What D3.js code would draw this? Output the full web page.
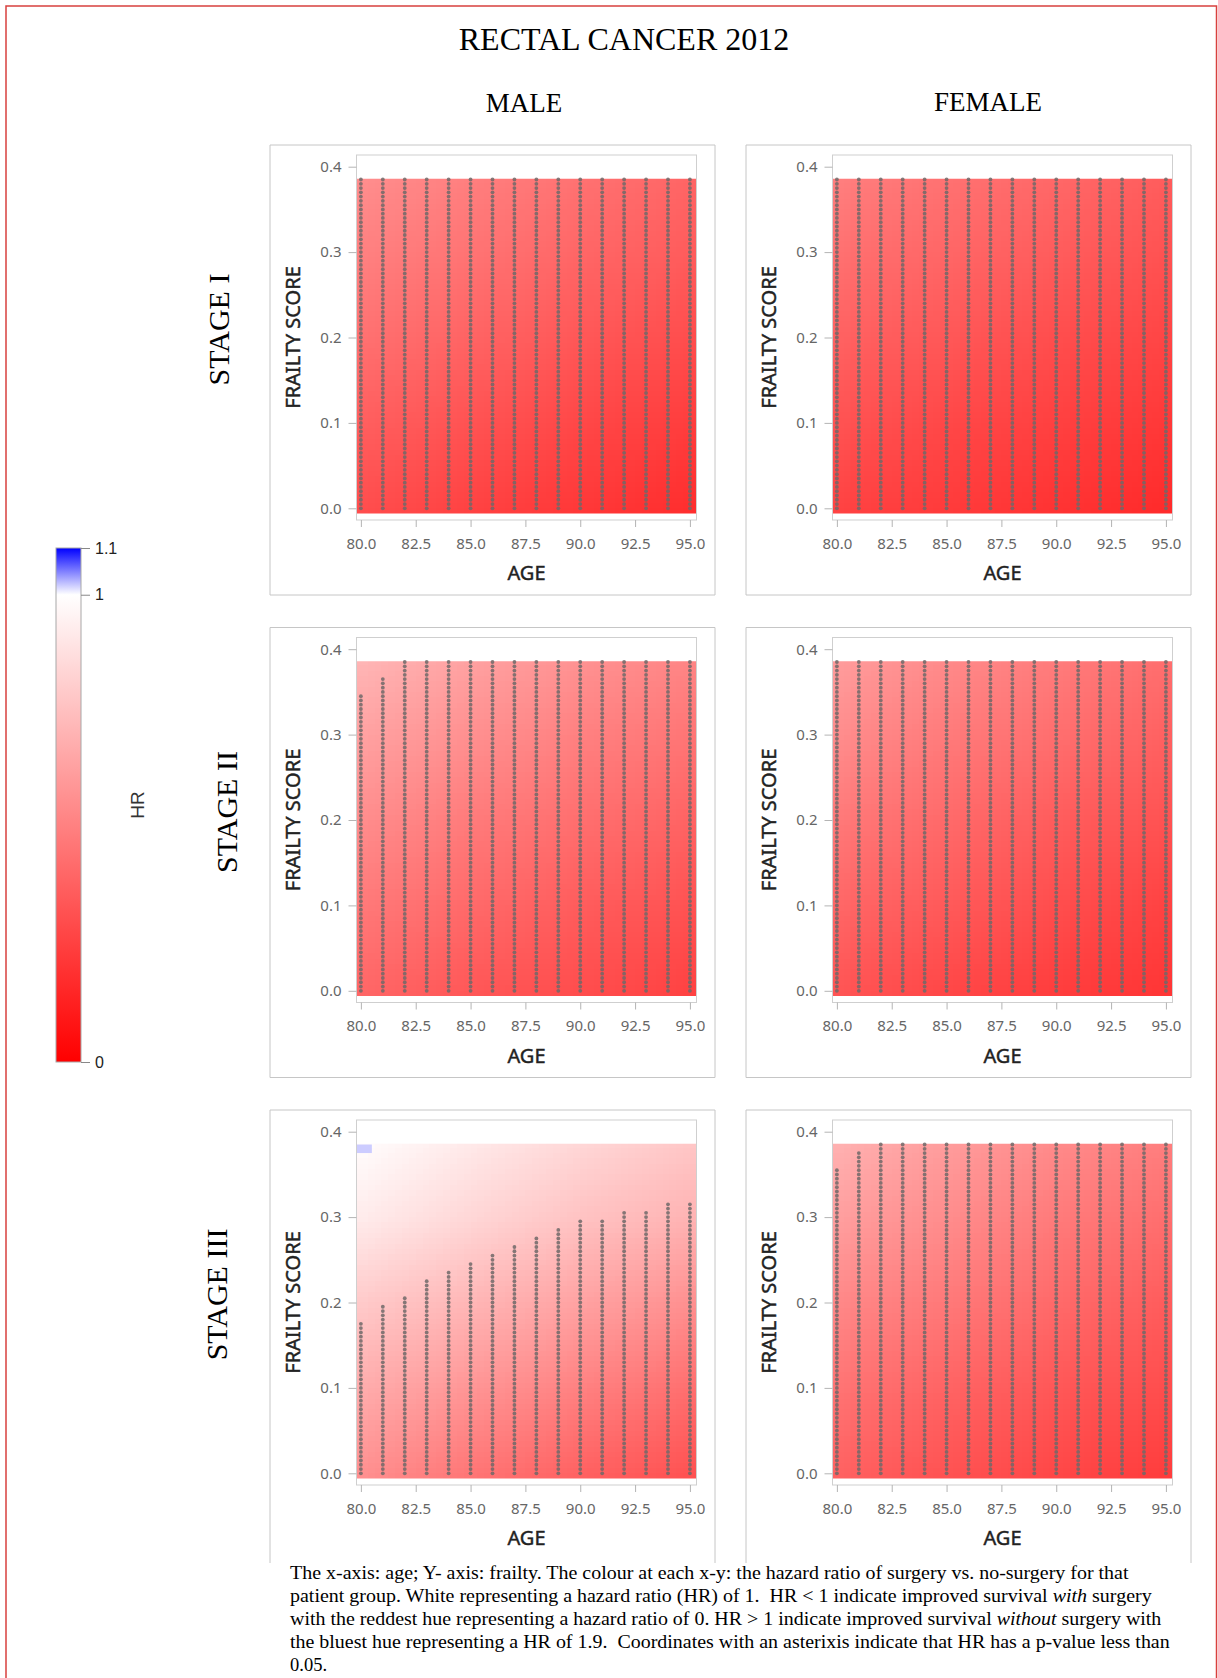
<!DOCTYPE html>
<html>
<head>
<meta charset="utf-8">
<script src="https://cdn.jsdelivr.net/npm/d3@7"></script>
<style>
  body { margin: 0; background: #fff; }
  svg { display: block; }
</style>
</head>
<body>
<div id="chart"></div>
<script>
const ages = [80, 81, 82, 83, 84, 85, 86, 87, 88, 89, 90, 91, 92, 93, 94, 95];
const ageTicks = [80, 82.5, 85, 87.5, 90, 92.5, 95];
const frailtyTicks = [0, 0.1, 0.2, 0.3, 0.4];
const legendTicks = [0, 1, 1.1];
const sexes = ['MALE', 'FEMALE'];
const stages = ['STAGE I', 'STAGE II', 'STAGE III'];

// HR at these ages (columns) and frailty scores (rows)
const hrAges = [80, 85, 90, 95];
const hrFrailty = [0, 0.1, 0.2, 0.3, 0.4];

const hrStage1Male = [
  [0.30, 0.26, 0.22, 0.18],
  [0.37, 0.32, 0.28, 0.24],
  [0.44, 0.39, 0.34, 0.30],
  [0.50, 0.45, 0.40, 0.36],
  [0.56, 0.50, 0.45, 0.40]
];
const hrStage1Female = [
  [0.26, 0.23, 0.20, 0.17],
  [0.32, 0.28, 0.25, 0.22],
  [0.38, 0.34, 0.30, 0.27],
  [0.44, 0.40, 0.36, 0.32],
  [0.50, 0.45, 0.41, 0.37]
];
const hrStage2Male = [
  [0.40, 0.34, 0.30, 0.26],
  [0.47, 0.41, 0.36, 0.32],
  [0.55, 0.48, 0.43, 0.39],
  [0.63, 0.56, 0.50, 0.46],
  [0.72, 0.64, 0.58, 0.53]
];
const hrStage2Female = [
  [0.33, 0.28, 0.24, 0.21],
  [0.40, 0.35, 0.30, 0.26],
  [0.47, 0.41, 0.36, 0.32],
  [0.55, 0.48, 0.43, 0.38],
  [0.62, 0.55, 0.49, 0.44]
];
const hrStage3Male = [
  [0.56, 0.46, 0.38, 0.32],
  [0.67, 0.58, 0.50, 0.43],
  [0.79, 0.71, 0.63, 0.56],
  [0.92, 0.84, 0.76, 0.70],
  [1.00, 0.92, 0.85, 0.79]
];
const hrStage3Female = [
  [0.38, 0.32, 0.28, 0.24],
  [0.45, 0.39, 0.34, 0.30],
  [0.53, 0.47, 0.41, 0.36],
  [0.62, 0.55, 0.48, 0.43],
  [0.70, 0.62, 0.55, 0.50]
];
// single cells drawn on top: [age, frailty, HR]
const hrCellsStage3Male = [[80, 0.38, 1.02]];

// highest frailty score with p < 0.05 at each age (asterisks run from 0 up to it)
const sigStage1Male = [0.385, 0.385, 0.385, 0.385, 0.385, 0.385, 0.385, 0.385, 0.385, 0.385, 0.385, 0.385, 0.385, 0.385, 0.385, 0.385];
const sigStage1Female = [0.385, 0.385, 0.385, 0.385, 0.385, 0.385, 0.385, 0.385, 0.385, 0.385, 0.385, 0.385, 0.385, 0.385, 0.385, 0.385];
const sigStage2Male = [0.345, 0.365, 0.385, 0.385, 0.385, 0.385, 0.385, 0.385, 0.385, 0.385, 0.385, 0.385, 0.385, 0.385, 0.385, 0.385];
const sigStage2Female = [0.385, 0.385, 0.385, 0.385, 0.385, 0.385, 0.385, 0.385, 0.385, 0.385, 0.385, 0.385, 0.385, 0.385, 0.385, 0.385];
const sigStage3Male = [0.175, 0.195, 0.205, 0.225, 0.235, 0.245, 0.255, 0.265, 0.275, 0.285, 0.295, 0.295, 0.305, 0.305, 0.315, 0.315];
const sigStage3Female = [0.355, 0.375, 0.385, 0.385, 0.385, 0.385, 0.385, 0.385, 0.385, 0.385, 0.385, 0.385, 0.385, 0.385, 0.385, 0.385];
const frailtyStep = 0.005;
const heatExtent = [-0.006, 0.386];

const captionLines = [
  [['The x-axis: age; Y- axis: frailty. The colour at each x-y: the hazard ratio of surgery vs. no-surgery for that']],
  [['patient group. White representing a hazard ratio (HR) of 1.  HR < 1 indicate improved survival '], ['with', true], [' surgery']],
  [['with the reddest hue representing a hazard ratio of 0. HR > 1 indicate improved survival '], ['without', true], [' surgery with']],
  [['the bluest hue representing a HR of 1.9.  Coordinates with an asterixis indicate that HR has a p-value less than']],
  [['0.05.']]
];

const panels = [
  { stage: 0, sex: 0, hr: hrStage1Male, sig: sigStage1Male, cells: [] },
  { stage: 0, sex: 1, hr: hrStage1Female, sig: sigStage1Female, cells: [] },
  { stage: 1, sex: 0, hr: hrStage2Male, sig: sigStage2Male, cells: [] },
  { stage: 1, sex: 1, hr: hrStage2Female, sig: sigStage2Female, cells: [] },
  { stage: 2, sex: 0, hr: hrStage3Male, sig: sigStage3Male, cells: hrCellsStage3Male },
  { stage: 2, sex: 1, hr: hrStage3Female, sig: sigStage3Female, cells: [] }
];

// layout
const W = 1218, H = 1678;
const colX = [270, 746];
const rowY = [145, 627.5, 1110];
const boxW = 445, boxH = 450;
const plot = { left: 86.5, top: 10, width: 340, height: 365 };
const headerX = [524, 988], headerY = [112, 111];
const stageX = [229, 237, 227];
const captionWidths = [839, 862, 872, 880, 0];
const serif = '"Liberation Serif", "Times New Roman", serif';
const sans = '"Noto Sans", "Open Sans", sans-serif';

const color = d3.scaleLinear()
  .domain([0, 1, 1.1])
  .range(['#ff0000', '#ffffff', '#0000ff'])
  .clamp(true);

const svg = d3.select('#chart').append('svg')
  .attr('width', W)
  .attr('height', H);

const defs = svg.append('defs');

//red frame round the figure
svg.append('rect')
  .attr('x', 6).attr('y', 6)
  .attr('width', 1210.5).attr('height', 1720)
  .attr('fill', 'none')
  .attr('stroke', '#d8403e')
  .attr('stroke-width', 1.5);

svg.append('text')
  .attr('x', 624).attr('y', 50)
  .attr('text-anchor', 'middle')
  .style('font-family', serif)
  .style('font-size', '32px')
  .text('RECTAL CANCER 2012');

svg.selectAll('.sex')
  .data(sexes)
  .enter()
  .append('text')
  .attr('class', 'sex')
  .attr('x', (d, i) => headerX[i])
  .attr('y', (d, i) => headerY[i])
  .attr('text-anchor', 'middle')
  .style('font-family', serif)
  .style('font-size', '27px')
  .text(d => d);

svg.selectAll('.stage')
  .data(stages)
  .enter()
  .append('text')
  .attr('class', 'stage')
  .attr('transform', (d, i) => `translate(${stageX[i]},${rowY[i] + plot.top + plot.height / 2 - 8}) rotate(-90)`)
  .attr('text-anchor', 'middle')
  .style('font-family', serif)
  .style('font-size', '30px')
  .text(d => d);

function heatImage(grid) {
  const canvas = document.createElement('canvas');
  canvas.width = hrAges.length;
  canvas.height = hrFrailty.length;
  const ctx = canvas.getContext('2d');
  grid.forEach((row, i) => {
    row.forEach((hr, j) => {
      ctx.fillStyle = color(hr);
      ctx.fillRect(j, hrFrailty.length - 1 - i, 1, 1);
    });
  });
  return canvas.toDataURL();
}

function drawPanel(p, n) {
  const ox = colX[p.sex], oy = rowY[p.stage];
  const last = p.stage === stages.length - 1;

  const x = d3.scaleLinear().domain([79.8, 95.3]).range([0, plot.width]);
  const y = d3.scaleLinear().domain([-0.0137, 0.4137]).range([plot.height, 0]);

  const box = svg.append('g').attr('transform', `translate(${ox},${oy})`);

  //outer box, the bottom row is cut by the caption
  box.append('path')
    .attr('d', last ? `M0,${boxH + 3}V0H${boxW}V${boxH + 3}` : `M0,0H${boxW}V${boxH}H0Z`)
    .attr('fill', 'none')
    .attr('stroke', '#c6c6c6');

  const g = box.append('g').attr('transform', `translate(${plot.left},${plot.top})`);

  g.append('rect')
    .attr('width', plot.width)
    .attr('height', plot.height)
    .attr('fill', '#fff');

  const clipId = 'heat-clip-' + n;
  defs.append('clipPath').attr('id', clipId)
    .append('rect')
    .attr('x', 0)
    .attr('y', y(heatExtent[1]))
    .attr('width', plot.width)
    .attr('height', y(heatExtent[0]) - y(heatExtent[1]));

  const halfAge = (hrAges[1] - hrAges[0]) / 2;
  const halfFrailty = (hrFrailty[1] - hrFrailty[0]) / 2;
  const heat = g.append('g').attr('clip-path', `url(#${clipId})`);

  heat.append('image')
    .attr('href', heatImage(p.hr))
    .attr('x', x(hrAges[0] - halfAge))
    .attr('y', y(hrFrailty[hrFrailty.length - 1] + halfFrailty))
    .attr('width', x(hrAges[hrAges.length - 1] + halfAge) - x(hrAges[0] - halfAge))
    .attr('height', y(hrFrailty[0] - halfFrailty) - y(hrFrailty[hrFrailty.length - 1] + halfFrailty))
    .attr('preserveAspectRatio', 'none');

  heat.selectAll('.cell')
    .data(p.cells)
    .enter()
    .append('rect')
    .attr('class', 'cell')
    .attr('x', d => x(d[0] - 0.5))
    .attr('y', d => y(d[1] + 0.005))
    .attr('width', d => x(d[0] + 0.5) - x(d[0] - 0.5))
    .attr('height', d => y(d[1] - 0.005) - y(d[1] + 0.005))
    .attr('fill', d => color(d[2]));

  //asterisks where p < 0.05
  const points = [];
  ages.forEach((age, i) => {
    const count = Math.round(p.sig[i] / frailtyStep);
    for (let k = 0; k <= count; k++) points.push([age, k * frailtyStep]);
  });

  g.selectAll('.star')
    .data(points)
    .enter()
    .append('circle')
    .attr('class', 'star')
    .attr('cx', d => x(d[0]))
    .attr('cy', d => y(d[1]))
    .attr('r', 1.9)
    .attr('fill', '#706868')
    .attr('fill-opacity', 0.85);

  g.append('rect')
    .attr('width', plot.width)
    .attr('height', plot.height)
    .attr('fill', 'none')
    .attr('stroke', '#cfcfcf');

  const styleAxis = a => {
    a.select('.domain').remove();
    a.selectAll('line').attr('stroke', '#b4b4b4');
    a.attr('font-family', sans).attr('font-size', 15);
    a.selectAll('text').attr('fill', '#666');
  };

  g.append('g')
    .attr('transform', `translate(0,${plot.height})`)
    .call(d3.axisBottom(x).tickValues(ageTicks).tickFormat(d3.format('.1f')).tickSize(7).tickPadding(11))
    .call(styleAxis);

  g.append('g')
    .call(d3.axisLeft(y).tickValues(frailtyTicks).tickFormat(d3.format('.1f')).tickSize(8).tickPadding(7))
    .call(styleAxis);

  g.append('text')
    .attr('x', plot.width / 2)
    .attr('y', plot.height + 60)
    .attr('text-anchor', 'middle')
    .attr('fill', '#222')
    .attr('stroke', '#222')
    .attr('stroke-width', 0.45)
    .style('font-family', sans)
    .style('font-size', '20px')
    .text('AGE');

  g.append('text')
    .attr('transform', `translate(-57,${plot.height / 2}) rotate(-90)`)
    .attr('text-anchor', 'middle')
    .attr('fill', '#222')
    .attr('stroke', '#222')
    .attr('stroke-width', 0.45)
    .style('font-family', sans)
    .style('font-size', '20px')
    .text('FRAILTY SCORE');
}

panels.forEach(drawPanel);

//colour legend
const legendScale = d3.scaleLinear().domain([0, 1.1]).range([1062, 548]);
const legendX = 56, legendW = 25;

const grad = defs.append('linearGradient')
  .attr('id', 'hr-grad')
  .attr('x1', 0).attr('y1', 1)
  .attr('x2', 0).attr('y2', 0);

grad.selectAll('stop')
  .data(color.domain())
  .enter()
  .append('stop')
  .attr('offset', d => d / 1.1)
  .attr('stop-color', d => color(d));

svg.append('rect')
  .attr('x', legendX)
  .attr('y', legendScale(1.1))
  .attr('width', legendW)
  .attr('height', legendScale(0) - legendScale(1.1))
  .attr('fill', 'url(#hr-grad)')
  .attr('stroke', '#a8a8a8');

svg.append('g')
  .attr('transform', `translate(${legendX + legendW},0)`)
  .call(d3.axisRight(legendScale).tickValues(legendTicks).tickFormat(d3.format('~g')).tickSize(9).tickPadding(5))
  .call(a => a.select('.domain').remove())
  .call(a => a.selectAll('line').attr('stroke', '#888'))
  .call(a => a.attr('font-family', '"Liberation Sans", Arial, sans-serif').attr('font-size', 16))
  .call(a => a.selectAll('text').attr('fill', '#222'));

svg.append('text')
  .attr('transform', 'translate(144,805) rotate(-90)')
  .attr('text-anchor', 'middle')
  .attr('fill', '#333')
  .style('font-family', '"Liberation Sans", Arial, sans-serif')
  .style('font-size', '19px')
  .text('HR');

//caption under the panels
captionLines.forEach((line, i) => {
  const t = svg.append('text')
    .style('font-family', serif)
    .style('font-size', '18.5px')
    .style('white-space', 'pre');
  line.forEach(seg => {
    t.append('tspan')
      .style('font-style', seg[1] ? 'italic' : 'normal')
      .text(seg[0]);
  });
  const w = t.node().getComputedTextLength();
  const sx = captionWidths[i] ? captionWidths[i] / w : 1;
  t.attr('transform', `translate(290,${1579 + i * 23}) scale(${sx},1)`);
});
</script>
</body>
</html>
